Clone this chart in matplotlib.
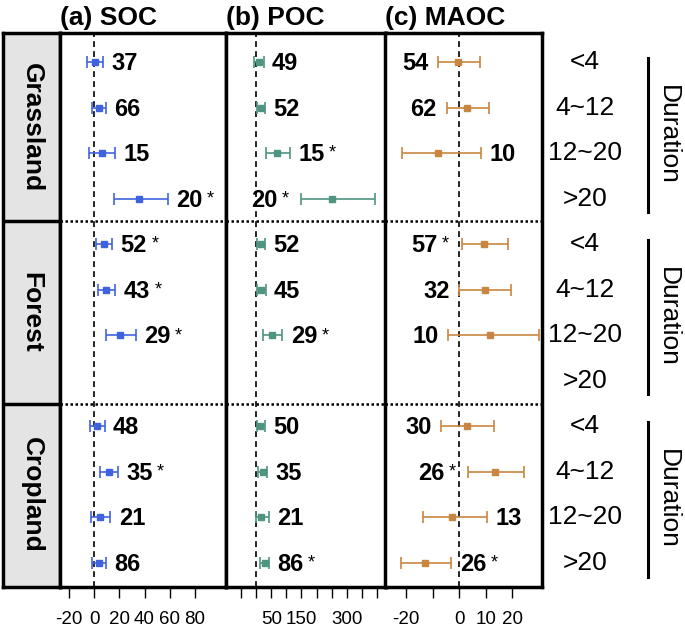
import numpy as np
import matplotlib
matplotlib.use("Agg")
import matplotlib.pyplot as plt
import matplotlib.transforms as mtransforms

plt.rcParams['font.family'] = ['Liberation Sans', 'DejaVu Sans']

nan = np.nan
land = ["Grassland", "Forest", "Cropland"]
duration = ["<4", "4~12", "12~20", ">20"]

# rows: Grassland (<4, 4~12, 12~20, >20), Forest (...), Cropland (...)
soc_mean = [0.8, 3.5, 5.9, 35.5, 7.5, 9.3, 20.5, nan, 2.4, 12.0, 4.5, 3.5]
soc_lo = [-5.8, -1.9, -4.3, 16.0, 1.1, 2.9, 9.3, nan, -3.2, 5.0, -2.4, -1.6]
soc_hi = [7.0, 9.3, 16.8, 58.7, 14.4, 16.8, 33.3, nan, 8.3, 19.0, 12.8, 9.3]
soc_n = ["37", "66", "15", "20", "52", "43", "29", "", "48", "35", "21", "86"]
soc_sig = [0, 0, 0, 1, 1, 1, 1, 0, 0, 1, 0, 0]
soc_side = ["r"] * 12

poc_mean = [10, 15.6, 69, 252, 15.6, 16.7, 52, nan, 13, 21, 16.7, 27.8]
poc_lo = [-6.7, 2.2, 33, 150, 2, 2, 22, nan, 2, 4.4, 0, 13.3]
poc_hi = [24.4, 30, 111, 393, 30, 31, 87, nan, 30, 35.6, 41, 42]
poc_n = ["49", "52", "15", "20", "52", "45", "29", "", "50", "35", "21", "86"]
poc_sig = [0, 0, 1, 1, 0, 0, 1, 0, 0, 0, 0, 1]
poc_side = ["r", "r", "r", "l", "r", "r", "r", "r", "r", "r", "r", "r"]

maoc_mean = [-0.5, 3.0, -7.8, nan, 9.4, 9.7, 11.7, nan, 2.9, 13.7, -2.8, -12.8]
maoc_lo = [-7.8, -4.7, -21.6, nan, 0.9, 0.1, -4.2, nan, -6.7, 3.3, -13.7, -22.0]
maoc_hi = [7.7, 11.2, 8.2, nan, 18.5, 19.7, 30.3, nan, 13.2, 24.6, 10.5, -2.9]
maoc_n = ["54", "62", "10", "", "57", "32", "10", "", "30", "26", "13", "26"]
maoc_sig = [0, 0, 0, 0, 1, 0, 0, 0, 0, 1, 0, 1]
maoc_side = ["l", "l", "r", "r", "l", "l", "l", "r", "l", "l", "r", "r"]

W, H = 685, 632
fig = plt.figure(figsize=(W / 100, H / 100), dpi=100)

top_px, bot_px = 33, 587
ylim = (11.53, -0.64)


def px_axes(x0, x1):
    return fig.add_axes([x0 / W, 1 - bot_px / H, (x1 - x0) / W, (bot_px - top_px) / H])


def panel(ax, mean, lo, hi, n, sig, side, color, title, xlim, ticks, labels):
    mean, lo, hi = np.array(mean), np.array(lo), np.array(hi)
    y = np.arange(len(mean))
    ok = ~np.isnan(mean)
    ax.axvline(0, color='black', ls=(0, (3.5, 2.5)), lw=1.2, zorder=1)
    for d in (3.5, 7.5):
        ax.axhline(d, color='black', ls=(0, (1, 1)), lw=1.8)
    ax.errorbar(mean[ok], y[ok], xerr=[mean[ok] - lo[ok], hi[ok] - mean[ok]],
                fmt='s', ms=5, color=color, ecolor=color, elinewidth=1.2,
                capsize=4, capthick=1.2, zorder=3)
    for i in np.where(ok)[0]:
        if side[i] == "r":
            t = ax.annotate(n[i], xy=(hi[i], y[i]), xytext=(6, -1), textcoords='offset points',
                            ha='left', va='center', fontsize=17, fontweight='bold')
        else:
            dx = -17 if sig[i] else -7
            t = ax.annotate(n[i], xy=(lo[i], y[i]), xytext=(dx, -1), textcoords='offset points',
                            ha='right', va='center', fontsize=17, fontweight='bold')
        if sig[i]:
            ax.annotate('*', xy=(1, 0.92), xycoords=t, xytext=(3, 0), textcoords='offset points',
                        ha='left', va='top', fontsize=13)
    ax.set_xlim(xlim)
    ax.set_ylim(ylim)
    ax.set_yticks([])
    ax.set_xticks(ticks, labels)
    ax.tick_params(axis='x', length=8, width=1, pad=9, labelsize=13.5)
    for s in ax.spines.values():
        s.set_linewidth(2.5)
    ax.set_title(title, loc='left', fontsize=19, fontweight='bold', pad=6)


# strip on the left
ax0 = px_axes(3, 60)
ax0.set_xlim(0, 1)
ax0.set_ylim(ylim)
bounds = [ylim[1], 3.5, 7.5, ylim[0]]
for k, name in enumerate(land):
    ax0.axhspan(bounds[k], bounds[k + 1], color='#E4E4E4', lw=0)
    ax0.text(0.5, (bounds[k] + bounds[k + 1]) / 2, name, rotation=-90, ha='center', va='center',
             fontsize=19, fontweight='bold')
for d in (3.5, 7.5):
    ax0.axhline(d, color='black', lw=2.5)
ax0.set_xticks([])
ax0.set_yticks([])
for s in ax0.spines.values():
    s.set_linewidth(2.5)

ax1 = px_axes(60, 226)
panel(ax1, soc_mean, soc_lo, soc_hi, soc_n, soc_sig, soc_side, '#3F63DE', "(a) SOC",
      (-27.2, 104.8), [-20, 0, 20, 40, 60, 80], ["-20", "0", "20", "40", "60", "80"])

ax2 = px_axes(226, 386)
poc_ticks = [-50, 0, 50, 100, 150, 200, 250, 300, 350, 400]
poc_labels = ["", "", "50", "", "150", "", "", "300", "", ""]
panel(ax2, poc_mean, poc_lo, poc_hi, poc_n, poc_sig, poc_side, '#4F9480', "(b) POC",
      (-100, 430), poc_ticks, poc_labels)

ax3 = px_axes(385, 542)
panel(ax3, maoc_mean, maoc_lo, maoc_hi, maoc_n, maoc_sig, maoc_side, '#C98640', "(c) MAOC",
      (-28, 31.3), [-20, -10, 0, 10, 20], ["-20", "", "0", "10", "20"])

# duration labels on the right
blend = mtransforms.blended_transform_factory(fig.transFigure, ax3.transData)
for k in range(3):
    for j, lab in enumerate(duration):
        fig.text(585 / W, 4 * k + j, lab, transform=blend, ha='center', va='center', fontsize=19)
    y0, y1 = 4 * k - 0.1, 4 * k + 3.3
    ax3.plot([648 / W, 648 / W], [y0, y1], transform=blend, color='black', lw=2.2, clip_on=False)
    fig.text(668 / W, (y0 + y1) / 2, "Duration", transform=blend, rotation=-90,
             ha='center', va='center', fontsize=19)

fig.savefig("out.png", dpi=100)
